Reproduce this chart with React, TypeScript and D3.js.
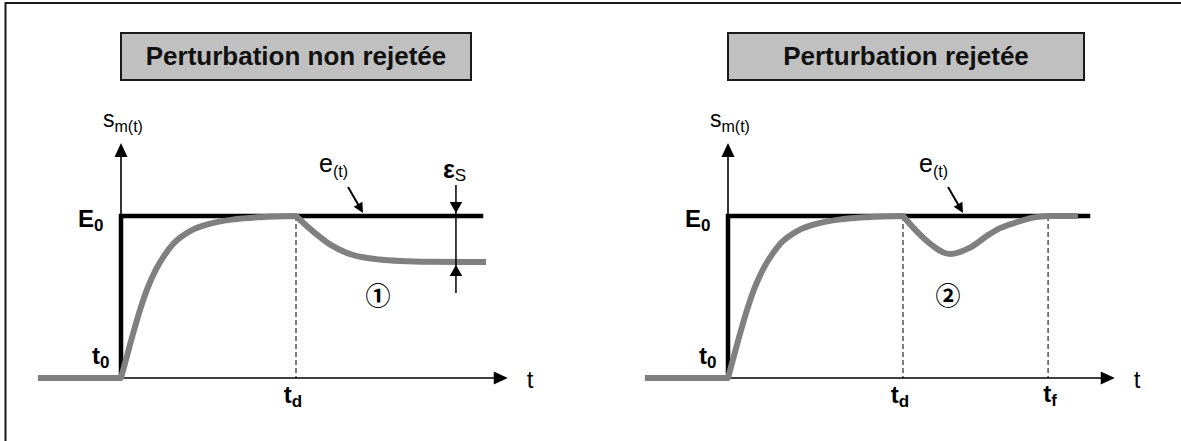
import React from "react";
import * as d3 from "d3";

// ---- data (time in arbitrary units, t0 = 0, td = 10; value in units of E0) ----
const panelTitles = ["Perturbation non rejetée", "Perturbation rejetée"];
const preT = [-4.75, 0];
const preV = [0, 0];
const riseT = [0, 0.5, 1.0, 1.5, 2.0, 2.5, 3.0, 4.0, 5.0, 6.5, 8.0, 10];
const riseV = [0, 0.2, 0.39, 0.55, 0.67, 0.76, 0.83, 0.91, 0.95, 0.98, 0.993, 1];
const nonRejT = [10, 10.97, 11.94, 12.91, 13.83, 14.8, 15.94, 17.66, 20.86];
const nonRejV = [1, 0.905, 0.825, 0.772, 0.745, 0.731, 0.722, 0.717, 0.716];
const rejT = [10, 10.57, 11.54, 12.69, 13.83, 14.97, 15.54, 16.51, 17.43, 18.29, 20.0];
const rejV = [1, 0.93, 0.83, 0.765, 0.805, 0.89, 0.925, 0.962, 0.99, 1, 1];
const stepT = [0, 0, 20.7];
const stepV = [0, 1, 1];
const tD = 10;
const tF = 18.29;
const tAxisMax = 22.1;
const vAxisMax = 1.45;
const epsT = 19.14;
const epsLow = 0.716;
const eArrowT = [13.83, 13.43];
const circledLabels = ["①", "②"];
const circledT = [14.69, 12.57];
const circledV = [0.5, 0.5];

const FONT = "'Liberation Sans', Arial, Helvetica, sans-serif";
const GRAY = "#808080";

function arrowHead(tx: number, ty: number, dx: number, dy: number, len: number, half: number) {
  const n = Math.hypot(dx, dy);
  const ux = dx / n, uy = dy / n;
  const bx = tx - ux * len, by = ty - uy * len;
  const px = -uy, py = ux;
  return `${tx},${ty} ${bx + px * half},${by + py * half} ${bx - px * half},${by - py * half}`;
}

function Panel({ idx, x0 }: { idx: number; x0: number }) {
  const x = d3.scaleLinear().domain([0, tD]).range([x0, x0 + 175]);
  const y = d3.scaleLinear().domain([0, 1]).range([378, 216]);
  const zip = (ts: number[], vs: number[]) => ts.map((t, i) => [t, vs[i]] as [number, number]);
  const lin = d3.line<[number, number]>().x((d) => x(d[0])).y((d) => y(d[1]));
  const smooth = d3
    .line<[number, number]>()
    .x((d) => x(d[0]))
    .y((d) => y(d[1]))
    .curve(d3.curveMonotoneX);
  const afterT = idx === 0 ? nonRejT : rejT;
  const afterV = idx === 0 ? nonRejV : rejV;
  const strip = (s: string) => s.replace(/^M[^CL]*/, "");
  const grayPath =
    (lin(zip(preT, preV)) || "") +
    strip(smooth(zip(riseT, riseV)) || "") +
    strip(smooth(zip(afterT, afterV)) || "");

  const ax = x(0);
  const ay = y(0);
  const axTip = x(tAxisMax);
  const ayTip = y(vAxisMax);
  const title = panelTitles[idx];
  const boxW = idx === 0 ? 350 : 356;
  const xd = x(tD);
  const eTip = x(eArrowT[idx]);
  const eTipY = y(1) - 3;

  return (
    <g>
      {/* title box */}
      <rect x={x0} y={33} width={boxW} height={47} fill="#c0c0c0" stroke="#1a1a1a" strokeWidth={2} />
      <text x={x0 + boxW / 2} y={65} textAnchor="middle" fontFamily={FONT} fontWeight="bold" fontSize={26} fill="#111">
        {title}
      </text>

      {/* y axis */}
      <line x1={ax} y1={ay} x2={ax} y2={ayTip + 10} stroke="#000" strokeWidth={1.6} />
      <polygon points={arrowHead(ax, ayTip, 0, -1, 14, 6.5)} fill="#000" />
      {/* x axis */}
      <line x1={ax} y1={ay} x2={axTip - 10} y2={ay} stroke="#000" strokeWidth={1.6} />
      <polygon points={arrowHead(axTip, ay, 1, 0, 14, 6.5)} fill="#000" />

      {/* dashed verticals */}
      <line x1={xd} y1={y(1)} x2={xd} y2={ay} stroke="#000" strokeWidth={1} strokeDasharray="5,3" />
      {idx === 1 && (
        <line x1={x(tF)} y1={y(1)} x2={x(tF)} y2={ay} stroke="#000" strokeWidth={1} strokeDasharray="5,3" />
      )}

      {/* step input */}
      <path d={lin(zip(stepT, stepV)) || ""} fill="none" stroke="#000" strokeWidth={4.5} strokeLinejoin="miter" />

      {/* response */}
      <path d={grayPath} fill="none" stroke={GRAY} strokeWidth={6} strokeLinejoin="round" />

      {/* e(t) arrow */}
      <line x1={eTip - 15} y1={eTipY - 26} x2={eTip - 4} y2={eTipY - 7} stroke="#000" strokeWidth={2} />
      <polygon points={arrowHead(eTip, eTipY, 15, 26, 10, 5)} fill="#000" />
      <text x={eTip - 44} y={172} fontFamily={FONT} fontSize={25} fill="#000">
        e<tspan fontSize={16} dy={5}>(t)</tspan>
      </text>

      {/* labels */}
      <text x={ax - 18} y={127} fontFamily={FONT} fontSize={23} fill="#000">
        s<tspan fontSize={16} dy={5}>m(t)</tspan>
      </text>
      <text x={ax - 43} y={227} fontFamily={FONT} fontWeight="bold" fontSize={24} fill="#000">
        E<tspan fontSize={17} dy={4}>0</tspan>
      </text>
      <text x={ax - 29} y={364} fontFamily={FONT} fontWeight="bold" fontSize={24} fill="#000">
        t<tspan fontSize={17} dy={4}>0</tspan>
      </text>
      <text x={xd - 3} y={403} textAnchor="middle" fontFamily={FONT} fontWeight="bold" fontSize={24} fill="#000">
        t<tspan fontSize={17} dy={4}>d</tspan>
      </text>
      {idx === 1 && (
        <text x={x(tF) + 2} y={402} textAnchor="middle" fontFamily={FONT} fontWeight="bold" fontSize={24} fill="#000">
          t<tspan fontSize={17} dy={4}>f</tspan>
        </text>
      )}
      <text x={axTip + 19} y={388} fontFamily={FONT} fontSize={24} fill="#000">
        t
      </text>
      <text
        x={x(circledT[idx])}
        y={y(circledV[idx]) + 8}
        textAnchor="middle"
        fontFamily="'Noto Sans CJK JP', 'DejaVu Sans', sans-serif"
        fontSize={25}
        fontWeight="bold"
        fill="#000"
      >
        {circledLabels[idx]}
      </text>

      {/* epsilon_s measurement (panel 1 only) */}
      {idx === 0 && (
        <g>
          <line x1={x(epsT)} y1={185} x2={x(epsT)} y2={293} stroke="#000" strokeWidth={1.5} />
          <polygon points={arrowHead(x(epsT), y(1) - 3, 0, 1, 11, 6.3)} fill="#000" />
          <polygon points={arrowHead(x(epsT), y(epsLow) + 3, 0, -1, 11, 6.3)} fill="#000" />
          <text x={x(epsT) - 13} y={178} fontFamily={FONT} fontWeight="bold" fontSize={25} fill="#000">
            ε<tspan fontWeight="normal" fontSize={17} dy={3}>S</tspan>
          </text>
        </g>
      )}
    </g>
  );
}

export default function App() {
  return (
    <svg
      width={1181}
      height={441}
      viewBox="0 0 1181 441"
      style={{ position: "absolute", left: 0, top: 0, display: "block", background: "#fff" }}
    >
      <rect x={0} y={0} width={1181} height={441} fill="#fff" />
      <rect x={5.5} y={3} width={1220} height={480} fill="none" stroke="#1a1a1a" strokeWidth={2} />
      <Panel idx={0} x0={121} />
      <Panel idx={1} x0={728} />
    </svg>
  );
}
